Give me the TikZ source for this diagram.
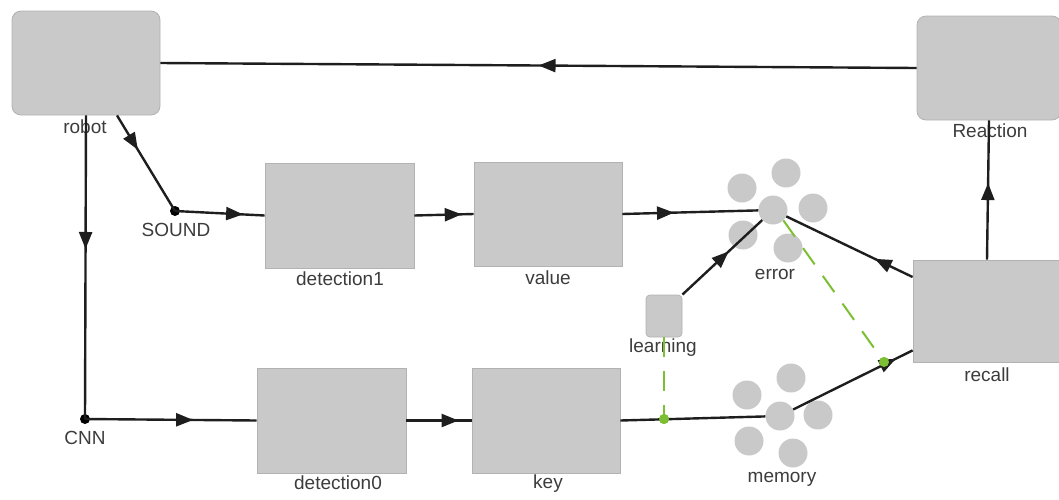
\documentclass[tikz,border=0pt]{standalone}
\usepackage{fontspec}
\setmainfont{Liberation Sans}
\usetikzlibrary{arrows.meta,decorations.markings}
\definecolor{boxgray}{HTML}{C9C9C9}
\definecolor{boxedge}{HTML}{B2B2B2}
\definecolor{wire}{HTML}{1E1E1E}
\definecolor{txt}{HTML}{3C3C3C}
\definecolor{lime}{HTML}{7CBF33}
\tikzset{
  block/.style={draw=boxedge, line width=0.8pt, fill=boxgray, inner sep=0pt},
  rblock/.style={block, rounded corners=9pt},
  cell/.style={circle, fill=boxgray, minimum size=29pt, inner sep=0pt},
  lbl/.style={text=txt, font=\fontsize{19}{21}\selectfont, inner sep=0pt},
  junction/.style={circle, fill=black, minimum size=10pt, inner sep=0pt},
  gdot/.style={circle, fill=lime, minimum size=10pt, inner sep=0pt},
  wireline/.style={draw=wire, line width=2.4pt},
  flow/.style={wireline, postaction={decorate},
    decoration={markings, mark=at position #1 with {\arrow{Triangle[length=17pt,width=13pt]}}}},
  flow/.default=0.5,
  gdash/.style={draw=lime, line width=2pt, dash pattern=on 20pt off 14pt}
}
\begin{document}
\begin{tikzpicture}[x=1pt,y=-1pt]
\useasboundingbox (0,0) rectangle (1059,499);

% boxes
\node[rblock, minimum width=148pt, minimum height=104pt] (robot) at (86,63) {};
\node[rblock, minimum width=144pt, minimum height=104pt] (reaction) at (989,68) {};
\node[block, minimum width=149pt, minimum height=105pt] (det1) at (339.5,215.5) {};
\node[block, minimum width=148pt, minimum height=104pt] (value) at (548,214) {};
\node[block, minimum width=149pt, minimum height=105pt] (det0) at (331.5,420.5) {};
\node[block, minimum width=148pt, minimum height=105pt] (key) at (546,420.5) {};
\node[block, minimum width=148pt, minimum height=102pt] (recall) at (987,311) {};
\node[rblock, rounded corners=4pt, minimum width=36pt, minimum height=42pt] (learn) at (664,316) {};

% error cluster
\node[cell] (e1) at (742,188) {};
\node[cell] (e2) at (786,173) {};
\node[cell] (e3) at (813,208) {};
\node[cell] (e4) at (788,248) {};
\node[cell] (e5) at (743,235) {};
\node[cell] (err) at (773,210) {};

% memory cluster
\node[cell] (m1) at (791,378) {};
\node[cell] (m2) at (747,395) {};
\node[cell] (m3) at (818,415) {};
\node[cell] (m4) at (749,441) {};
\node[cell] (m5) at (793,453) {};
\node[cell] (mem) at (780,416) {};

% junction points
\node[junction] (sound) at (175,211) {};
\node[junction] (cnn) at (85,419) {};
\node[gdot] (g1) at (664,419) {};
\node[gdot] (g2) at (884,362) {};

% labels
\node[lbl] (lrobot) at (85,127) {robot};
\node[lbl] (lreaction) at (990,131) {Reaction};
\node[lbl] (lsound) at (176,230) {SOUND};
\node[lbl] (ldet1) at (340,279) {detection1};
\node[lbl] (lvalue) at (548,278) {value};
\node[lbl] (lerror) at (775,274) {error};
\node[lbl] (llearn) at (663,348) {learning};
\node[lbl] (lrecall) at (987,375) {recall};
\node[lbl] (lcnn) at (85,438) {CNN};
\node[lbl] (ldet0) at (338,483) {detection0};
\node[lbl] (lkey) at (548,484) {key};
\node[lbl] (lmem) at (782,479) {memory};

% green dashed links
\draw[gdash] (err.south east) -- (g2.center);
\draw[gdash] (learn.south) -- (g1.center);

% connectors
\draw[flow=0.5] (reaction.west) -- (robot.east);
\draw[flow=0.44] (robot.south) -- (cnn.center);
\draw[flow=0.36] ([xshift=31pt]robot.south) -- (sound.center);
\draw[flow=0.76] (sound.center) -- (det1.west);
\draw[flow=0.8] (det1.east) -- (value.west);
\draw[flow=0.38] (value.east) -- (err);
\draw[flow=0.3] ([yshift=34pt]recall.west) -- (err);
\draw[flow=0.55] (recall.north) -- (reaction.south);
\draw[flow=0.58] (learn.north east) -- (err);
\draw[flow=0.63] (cnn.center) -- (det0.west);
\draw[flow=0.8] (det0.east) -- (key.west);
\draw[wireline] (key.east) -- (mem);
\draw[flow=0.86] (mem) -- ([yshift=12pt]recall.south west);

% green markers on top
\node[gdot] at (g1) {};
\node[gdot] at (g2) {};
\end{tikzpicture}
\end{document}
